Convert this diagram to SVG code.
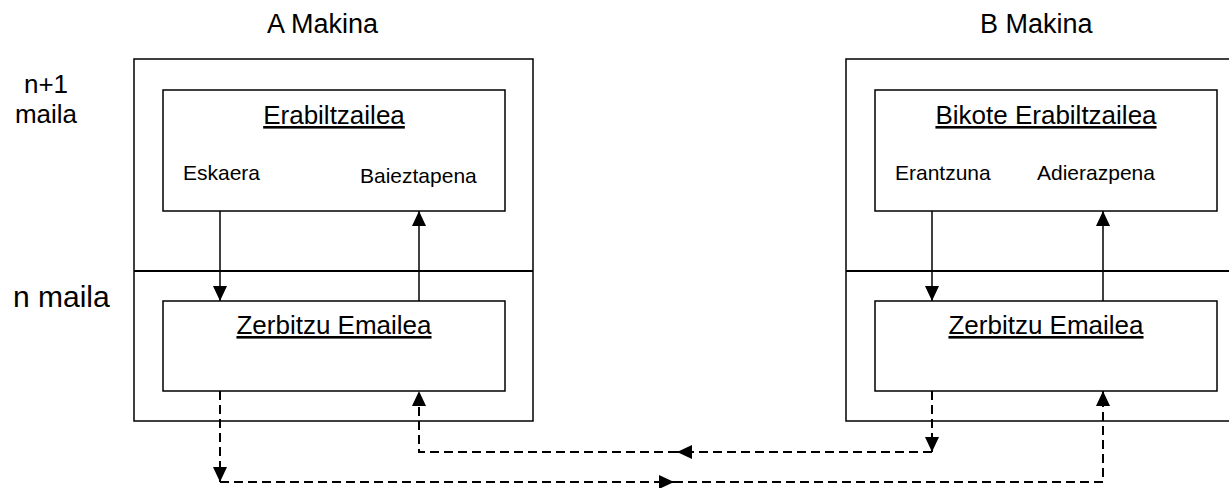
<svg xmlns="http://www.w3.org/2000/svg" width="1229" height="488" viewBox="0 0 1229 488">
<style>
text{font-family:"Liberation Sans",Arial,sans-serif;fill:#000}
.box{fill:none;stroke:#000;stroke-width:1.5}
.mid{stroke:#000;stroke-width:2}
.ttl{font-size:26px;text-decoration:underline;text-anchor:middle}
.lbl{font-size:21px}
.mach{font-size:27px}
.solid{fill:none;stroke:#000;stroke-width:1.5}
.dash{fill:none;stroke:#000;stroke-width:2;stroke-dasharray:9 5}
</style>
<defs>
<marker id="ah" markerUnits="userSpaceOnUse" markerWidth="15" markerHeight="14" refX="15" refY="7" orient="auto">
<path d="M0,0 L15,7 L0,14 z" fill="#000"/>
</marker>
</defs>
<rect width="1229" height="488" fill="#fff"/>
<g id="levels">
<text x="46" y="93" class="lbl" style="font-size:26px" text-anchor="middle">n+1</text>
<text x="46" y="123" class="lbl" style="font-size:26px" text-anchor="middle">maila</text>
<text x="13" y="307" style="font-size:30px">n maila</text>
</g>
<g id="machineA">
<text x="267" y="33" class="mach">A Makina</text>
<rect x="134" y="59" width="399" height="362" class="box"/>
<line x1="134" y1="271" x2="533" y2="271" class="mid"/>
</g>
<g id="userA">
<rect x="163" y="90" width="342" height="121" class="box"/>
<text x="334" y="124" class="ttl">Erabiltzailea</text>
<text x="183" y="180" class="lbl">Eskaera</text>
<text x="360" y="183" class="lbl">Baieztapena</text>
</g>
<g id="providerA">
<rect x="163" y="301" width="342" height="90" class="box"/>
<text x="334" y="334" class="ttl">Zerbitzu Emailea</text>
</g>
<g id="machineB">
<text x="980" y="33" class="mach">B Makina</text>
<rect x="846" y="59" width="399" height="362" class="box"/>
<line x1="846" y1="271" x2="1245" y2="271" class="mid"/>
</g>
<g id="userB">
<rect x="875" y="90" width="342" height="121" class="box"/>
<text x="1046" y="124" class="ttl">Bikote Erabiltzailea</text>
<text x="895" y="180" class="lbl">Erantzuna</text>
<text x="1037" y="180" class="lbl">Adierazpena</text>
</g>
<g id="providerB">
<rect x="875" y="301" width="342" height="90" class="box"/>
<text x="1046" y="334" class="ttl">Zerbitzu Emailea</text>
</g>
<g id="connectors">
<path d="M220,211 V301" class="solid" marker-end="url(#ah)"/>
<path d="M419,301 V211" class="solid" marker-end="url(#ah)"/>
<path d="M932,211 V301" class="solid" marker-end="url(#ah)"/>
<path d="M1103,301 V211" class="solid" marker-end="url(#ah)"/>
<path d="M220,391 V482" class="dash" marker-end="url(#ah)"/>
<path d="M220,482 H674" class="dash" marker-end="url(#ah)"/>
<path d="M674,482 H1103 V391" class="dash" marker-end="url(#ah)"/>
<path d="M932,391 V452" class="dash" marker-end="url(#ah)"/>
<path d="M932,452 H677" class="dash" marker-end="url(#ah)"/>
<path d="M677,452 H419 V391" class="dash" marker-end="url(#ah)"/>
</g>
</svg>
